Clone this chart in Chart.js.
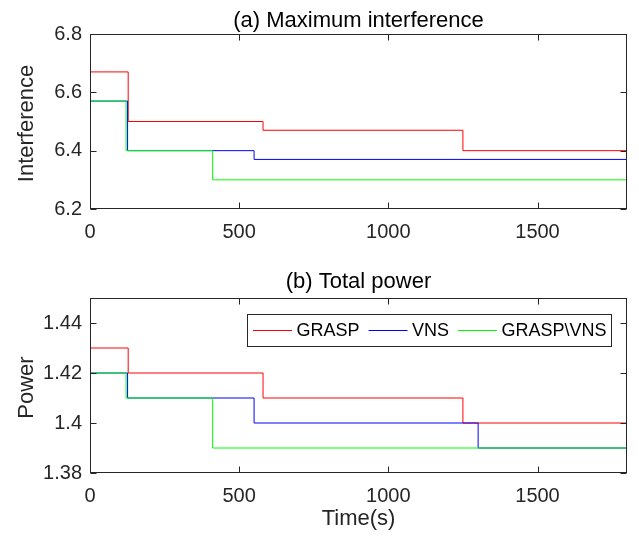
<!DOCTYPE html>
<html>
<head>
<meta charset="utf-8">
<script src="https://cdn.jsdelivr.net/npm/chart.js@4.4.1/dist/chart.umd.min.js"></script>
<style>
  html, body { margin: 0; padding: 0; background: #fff; }
  #wrap { position: relative; width: 639px; height: 541px; }
  canvas { position: absolute; left: 0; }
</style>
</head>
<body>
<div id="wrap">
  <canvas id="top" width="639" height="268" style="top:0"></canvas>
  <canvas id="bot" width="639" height="273" style="top:268px"></canvas>
</div>
<script>
// names + colours
const series = ['GRASP', 'VNS', 'GRASP\\VNS'];
const colors = ['#ff0000', '#0000ff', '#00ff00'];

// (a) max interference: time (s) where the value changes, and the new value
const graspTimesA = [0, 128, 580, 1250, 1800];
const graspInterf = [6.67, 6.50, 6.47, 6.40, 6.40];
const vnsTimesA = [0, 126, 550, 1800];
const vnsInterf = [6.57, 6.40, 6.37, 6.37];
const hybTimesA = [0, 121, 411, 1800];
const hybInterf = [6.57, 6.40, 6.30, 6.30];

// (b) total power
const graspTimesB = [0, 128, 580, 1250, 1800];
const graspPower = [1.43, 1.42, 1.41, 1.40, 1.40];
const vnsTimesB = [0, 126, 550, 1301, 1800];
const vnsPower = [1.42, 1.41, 1.40, 1.39, 1.39];
const hybTimesB = [0, 121, 411, 1800];
const hybPower = [1.42, 1.41, 1.39, 1.39];

// ticks
const timeTicks = [0, 500, 1000, 1500];
const interfTicks = [6.2, 6.4, 6.6, 6.8];
const powerTicks = [1.38, 1.40, 1.42, 1.44];

const FONT = "'Liberation Sans', Arial, Helvetica, sans-serif";
const INK = '#262626';

function pts(xs, ys) {
  return xs.map((x, i) => ({ x: x, y: ys[i] }));
}

// matlab-ish box, inward ticks, titles, legend
const matlabPlugin = {
  id: 'matlab',
  afterDatasetsDraw(chart, args, o) {
    const ctx = chart.ctx, a = chart.chartArea;
    const sx = chart.scales.x, sy = chart.scales.y;
    const L = Math.round(a.left) + 0.5, R = Math.round(a.right) - 0.5;
    const T = Math.round(a.top) + 0.5, B = Math.round(a.bottom) - 0.5;
    ctx.save();
    ctx.strokeStyle = INK;
    ctx.lineWidth = 1;
    ctx.beginPath();
    sx.ticks.forEach(t => {
      const px = Math.round(sx.getPixelForValue(t.value)) + 0.5;
      ctx.moveTo(px, B); ctx.lineTo(px, B - 6);
      ctx.moveTo(px, T); ctx.lineTo(px, T + 6);
    });
    sy.ticks.forEach(t => {
      const py = Math.round(sy.getPixelForValue(t.value)) + 0.5;
      ctx.moveTo(L, py); ctx.lineTo(L + 6, py);
      ctx.moveTo(R, py); ctx.lineTo(R - 6, py);
    });
    ctx.stroke();
    ctx.strokeRect(L, T, R - L, B - T);

    // title
    const cx = (a.left + a.right) / 2;
    ctx.fillStyle = '#000';
    ctx.font = '22px ' + FONT;
    ctx.textAlign = 'center';
    ctx.textBaseline = 'alphabetic';
    ctx.fillText(o.title, cx, o.titleY);

    // axis labels
    ctx.fillStyle = INK;
    if (o.xlabel) ctx.fillText(o.xlabel, cx, o.xlabelY);
    ctx.save();
    ctx.translate(33, (a.top + a.bottom) / 2 + 2);
    ctx.rotate(-Math.PI / 2);
    ctx.fillText(o.ylabel, 0, 0);
    ctx.restore();

    // legend box
    if (o.legend) {
      ctx.font = '18px ' + FONT;
      const lineLen = 39, gap = 4.5, itemGap = 9, padL = 6, padR = 4;
      const bx = o.legend.x, by = o.legend.y, bh = 32;
      let w = padL;
      chart.data.datasets.forEach((d, i) => {
        w += lineLen + gap + ctx.measureText(d.label).width;
        if (i < chart.data.datasets.length - 1) w += itemGap;
      });
      w += padR;
      ctx.fillStyle = '#fff';
      ctx.fillRect(bx, by, w, bh);
      ctx.strokeStyle = INK;
      ctx.strokeRect(bx + 0.5, by + 0.5, Math.round(w), bh);
      const cy = by + bh / 2 + 0.5;
      let x = bx + padL;
      ctx.textAlign = 'left';
      ctx.textBaseline = 'middle';
      chart.data.datasets.forEach(d => {
        ctx.strokeStyle = d.borderColor;
        ctx.beginPath();
        ctx.moveTo(x, cy); ctx.lineTo(x + lineLen, cy);
        ctx.stroke();
        x += lineLen + gap;
        ctx.fillStyle = '#000';
        ctx.fillText(d.label, x, cy + 1);
        x += ctx.measureText(d.label).width + itemGap;
      });
    }
    ctx.restore();
  }
};

function makeChart(id, data, yMin, yMax, yTicks, padTop, xAxisH, plug) {
  return new Chart(document.getElementById(id), {
    type: 'line',
    data: {
      datasets: data.map((d, i) => ({
        label: series[i],
        data: d,
        borderColor: colors[i],
        borderWidth: 1,
        pointRadius: 0,
        stepped: true,
        fill: false,
        order: 3 - i
      }))
    },
    options: {
      responsive: false,
      animation: false,
      layout: { padding: { top: padTop, right: 12, left: 0, bottom: 0 } },
      plugins: {
        legend: { display: false },
        tooltip: { enabled: false },
        matlab: plug
      },
      scales: {
        x: {
          type: 'linear', min: 0, max: 1800,
          afterBuildTicks: s => { s.ticks = timeTicks.map(v => ({ value: v })); },
          afterFit: s => { s.height = xAxisH; },
          grid: { display: false, drawTicks: false },
          border: { display: false },
          ticks: {
            color: INK, padding: 11, maxRotation: 0,
            font: { family: FONT, size: 20 },
            callback: v => String(v)
          }
        },
        y: {
          min: yMin, max: yMax,
          afterBuildTicks: s => { s.ticks = yTicks.map(v => ({ value: v })); },
          afterFit: s => { s.width = 90; },
          grid: { display: false, drawTicks: false },
          border: { display: false },
          ticks: {
            color: INK, padding: 8,
            font: { family: FONT, size: 20 },
            callback: v => String(+v.toFixed(2))
          }
        }
      }
    },
    plugins: [matlabPlugin]
  });
}

makeChart('top',
  [pts(graspTimesA, graspInterf), pts(vnsTimesA, vnsInterf), pts(hybTimesA, hybInterf)],
  6.2, 6.8, interfTicks, 34, 59,
  { title: '(a) Maximum interference', titleY: 27, ylabel: 'Interference' });

makeChart('bot',
  [pts(graspTimesB, graspPower), pts(vnsTimesB, vnsPower), pts(hybTimesB, hybPower)],
  1.38, 1.45, powerTicks, 30, 68,
  { title: '(b) Total power', titleY: 20, ylabel: 'Power', xlabel: 'Time(s)', xlabelY: 257,
    legend: { x: 247, y: 46 } });
</script>
</body>
</html>
